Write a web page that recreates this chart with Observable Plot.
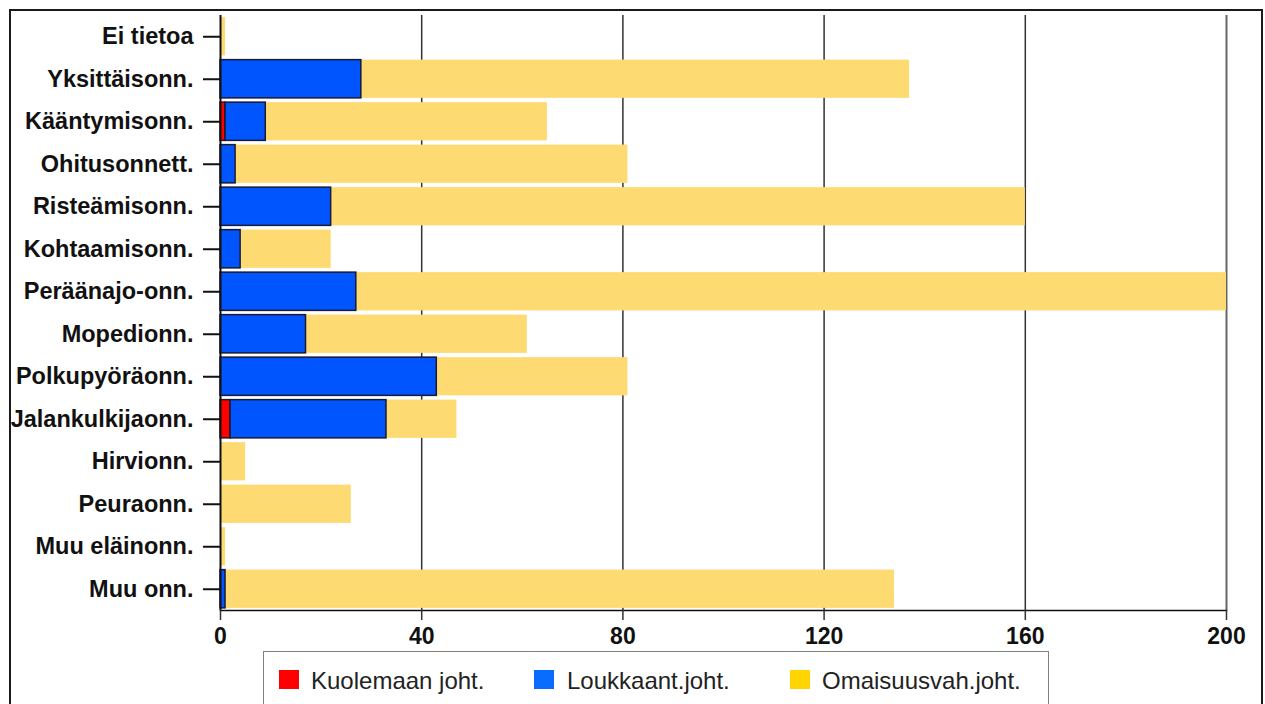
<!DOCTYPE html>
<html>
<head>
<meta charset="utf-8">
<script src="https://cdn.jsdelivr.net/npm/d3@7"></script>
<script src="https://cdn.jsdelivr.net/npm/@observablehq/plot@0.6"></script>
<style>
  html, body { margin: 0; padding: 0; background: #fff; width: 1265px; height: 704px; overflow: hidden; }
  #chart { position: absolute; left: 0; top: 0; }
  #frame { position: absolute; left: 9px; top: 9px; width: 1254px; height: 730px; box-sizing: border-box; border: 2px solid #1a1a1a; pointer-events: none; }
  #legendbox { position: absolute; left: 263px; top: 651px; width: 786px; height: 80px; box-sizing: border-box; border: 1.5px solid #808080; background: #fff; }
  .sw { position: absolute; width: 20px; height: 19px; top: 670px; }
  .lt { position: absolute; top: 669px; font-family: "Liberation Sans", Arial, sans-serif; font-size: 24px; line-height: 24px; color: #222; white-space: nowrap; }
</style>
</head>
<body>
<div id="chart"></div>
<div id="frame"></div>
<div id="legendbox"></div>
<div id="legend"></div>
<script>
const categories = ["Ei tietoa","Yksittäisonn.","Kääntymisonn.","Ohitusonnett.","Risteämisonn.","Kohtaamisonn.","Peräänajo-onn.","Mopedionn.","Polkupyöräonn.","Jalankulkijaonn.","Hirvionn.","Peuraonn.","Muu eläinonn.","Muu onn."];
const seriesNames = ["Kuolemaan joht.","Loukkaant.joht.","Omaisuusvah.joht."];
const kuolemaan = [0,0,1,0,0,0,0,0,0,2,0,0,0,0];
const loukkaant = [0,28,8,3,22,4,27,17,43,31,0,0,0,1];
const omaisuus  = [1,109,56,78,138,18,173,44,38,14,5,26,1,133];
const xTicks = [0,40,80,120,160,200];

const barColors = ["#ff0000","#0055ff","#fdda72"];
const legendColors = ["#ff0000","#0a6cff","#ffd400"];

const seriesValues = [kuolemaan, loukkaant, omaisuus];
const rows = [];
categories.forEach((c, i) => {
  seriesValues.forEach((vals, s) => {
    if (vals[i] > 0) rows.push({cat: c, series: seriesNames[s], value: vals[i]});
  });
});

const stackOpts = {x: "value", y: "cat", fill: "series", order: null};

const plot = Plot.plot({
  width: 1265,
  height: 660,
  marginLeft: 220,
  marginRight: 39,
  marginTop: 15,
  marginBottom: 50,
  style: {fontFamily: "'Liberation Sans', Arial, sans-serif", fontSize: "23px", color: "#111", background: "transparent", overflow: "visible"},
  x: {domain: [0, 200]},
  y: {domain: categories, paddingInner: 0.1, paddingOuter: 0.05, round: false},
  color: {domain: seriesNames, range: barColors},
  marks: [
    Plot.ruleX(xTicks.slice(1, -1), {stroke: "#333", strokeWidth: 1.5}),
    Plot.ruleX([200], {stroke: "#666", strokeWidth: 2}),
    Plot.barX(rows, Plot.stackX(stackOpts)),
    Plot.barX(rows, Plot.filter(d => d.series !== seriesNames[2], Plot.stackX({...stackOpts, stroke: "#1a1a33", strokeWidth: 1.5}))),
    Plot.ruleX([0], {stroke: "#111", strokeWidth: 2}),
    Plot.frame({anchor: "bottom", stroke: "#111", strokeWidth: 1.5}),
    Plot.axisX({ticks: xTicks, tickSize: 10, tickPadding: 7, fontWeight: "bold", fontSize: 23, label: null, stroke: "#333", strokeWidth: 1.5, tickFormat: d => String(d)}),
    Plot.axisY({tickSize: 17, tickPadding: 10, fontWeight: "bold", fontSize: 23.5, label: null, stroke: "#111", strokeWidth: 2})
  ]
});
document.getElementById("chart").appendChild(plot);

const legendX = [{sw: 279, tx: 311}, {sw: 534, tx: 567}, {sw: 790, tx: 822}];
const leg = document.getElementById("legend");
seriesNames.forEach((name, i) => {
  const sw = document.createElement("div");
  sw.className = "sw";
  sw.style.left = legendX[i].sw + "px";
  sw.style.background = legendColors[i];
  leg.appendChild(sw);
  const t = document.createElement("div");
  t.className = "lt";
  t.style.left = legendX[i].tx + "px";
  t.textContent = name;
  leg.appendChild(t);
});
</script>
</body>
</html>
